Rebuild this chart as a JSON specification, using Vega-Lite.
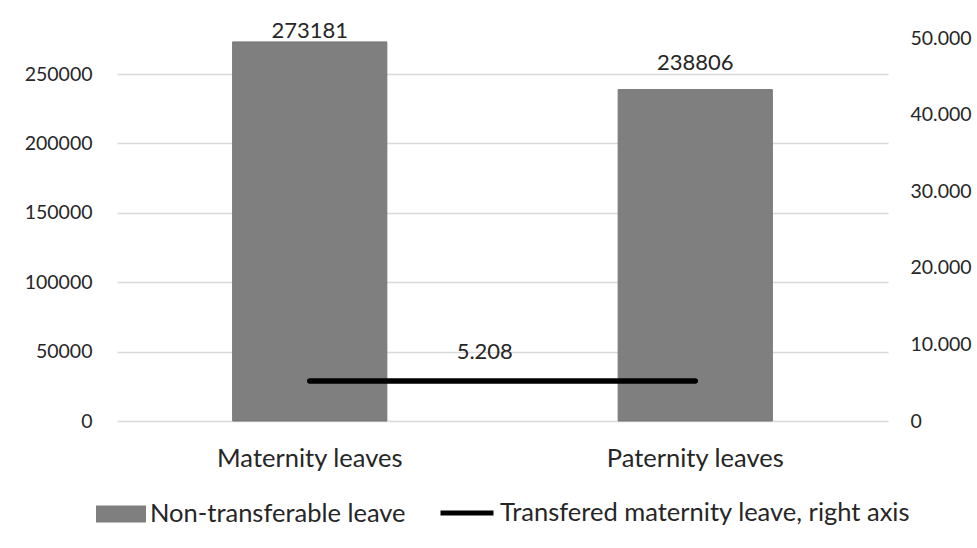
{
  "$schema": "https://vega.github.io/schema/vega-lite/v6.json",
  "width": 771,
  "height": 383,
  "autosize": {"type": "none"},
  "padding": {"left": 117, "top": 38, "right": 89, "bottom": 127},
  "background": "white",
  "config": {
    "locale": {"number": {"decimal": ",", "thousands": ".", "grouping": [3], "currency": ["", " €"]}},
    "font": "Lato",
    "view": {"stroke": null},
    "axis": {"labelFont": "Lato", "labelColor": "#262626", "labelFontSize": 19.5, "domain": false, "ticks": false, "labelLimit": 0},
    "legend": {"labelFont": "Lato", "labelColor": "#262626", "labelFontSize": 25.5, "labelLimit": 0}
  },
  "data": {"values": [
    {"type": "Maternity leaves", "nontransferable": 273181, "transfered": 5208},
    {"type": "Paternity leaves", "nontransferable": 238806, "transfered": 5208}
  ]},
  "encoding": {
    "x": {"field": "type", "type": "nominal", "sort": null,
      "scale": {"paddingInner": 0.6, "paddingOuter": 0.3},
      "axis": {"title": null, "labelAngle": 0, "labelPadding": 25, "labelFontSize": 25.5, "labelLimit": 400, "grid": false}}
  },
  "layer": [
    {
      "encoding": {
        "y": {"field": "nontransferable", "type": "quantitative",
          "scale": {"domain": [0, 276000], "nice": false},
          "axis": {"title": null, "orient": "left", "values": [0, 50000, 100000, 150000, 200000, 250000], "format": "d", "labelPadding": 25, "grid": true, "gridColor": "#d9d9d9", "gridWidth": 1.5}}
      },
      "layer": [
        {
          "mark": {"type": "bar", "stroke": "#767676", "strokeWidth": 1},
          "encoding": {
            "fill": {"datum": "Non-transferable leave", "type": "nominal",
              "scale": {"range": ["#7f7f7f"]},
              "legend": {"title": null, "orient": "none", "legendX": -21, "legendY": 451, "padding": 0,
                "symbolType": "M-1,-0.34H1V0.34H-1Z", "symbolSize": 2500, "symbolStrokeWidth": 0, "labelOffset": 4}}
          }
        },
        {
          "transform": [{"filter": "datum.type === 'Maternity leaves'"}],
          "mark": {"type": "text", "baseline": "bottom", "dy": 1, "fontSize": 22, "color": "#262626"},
          "encoding": {"text": {"field": "nontransferable", "type": "quantitative", "format": "d"}}
        },
        {
          "transform": [{"filter": "datum.type === 'Paternity leaves'"}],
          "mark": {"type": "text", "baseline": "bottom", "dy": -15, "fontSize": 22, "color": "#262626"},
          "encoding": {"text": {"field": "nontransferable", "type": "quantitative", "format": "d"}}
        }
      ]
    },
    {
      "encoding": {
        "y": {"field": "transfered", "type": "quantitative",
          "scale": {"domain": [0, 50000], "nice": false},
          "axis": {"title": null, "orient": "right", "values": [0, 10000, 20000, 30000, 40000, 50000], "format": ",.0f", "labelPadding": 22, "grid": false}}
      },
      "layer": [
        {
          "mark": {"type": "line", "strokeWidth": 5.5, "strokeCap": "round"},
          "encoding": {
            "stroke": {"datum": "Transfered maternity leave, right axis", "type": "nominal",
              "scale": {"range": ["#000000"]},
              "legend": {"title": null, "orient": "none", "legendX": 321, "legendY": 446, "padding": 0,
                "symbolType": "stroke", "symbolSize": 2809, "symbolStrokeWidth": 5, "labelOffset": 4}}
          }
        },
        {
          "transform": [{"filter": "datum.type === 'Maternity leaves'"}],
          "mark": {"type": "text", "dx": 175, "dy": -29, "fontSize": 22, "color": "#262626"},
          "encoding": {"text": {"field": "transfered", "type": "quantitative", "format": ",.0f"}}
        }
      ]
    }
  ],
  "resolve": {"scale": {"y": "independent"}}
}
